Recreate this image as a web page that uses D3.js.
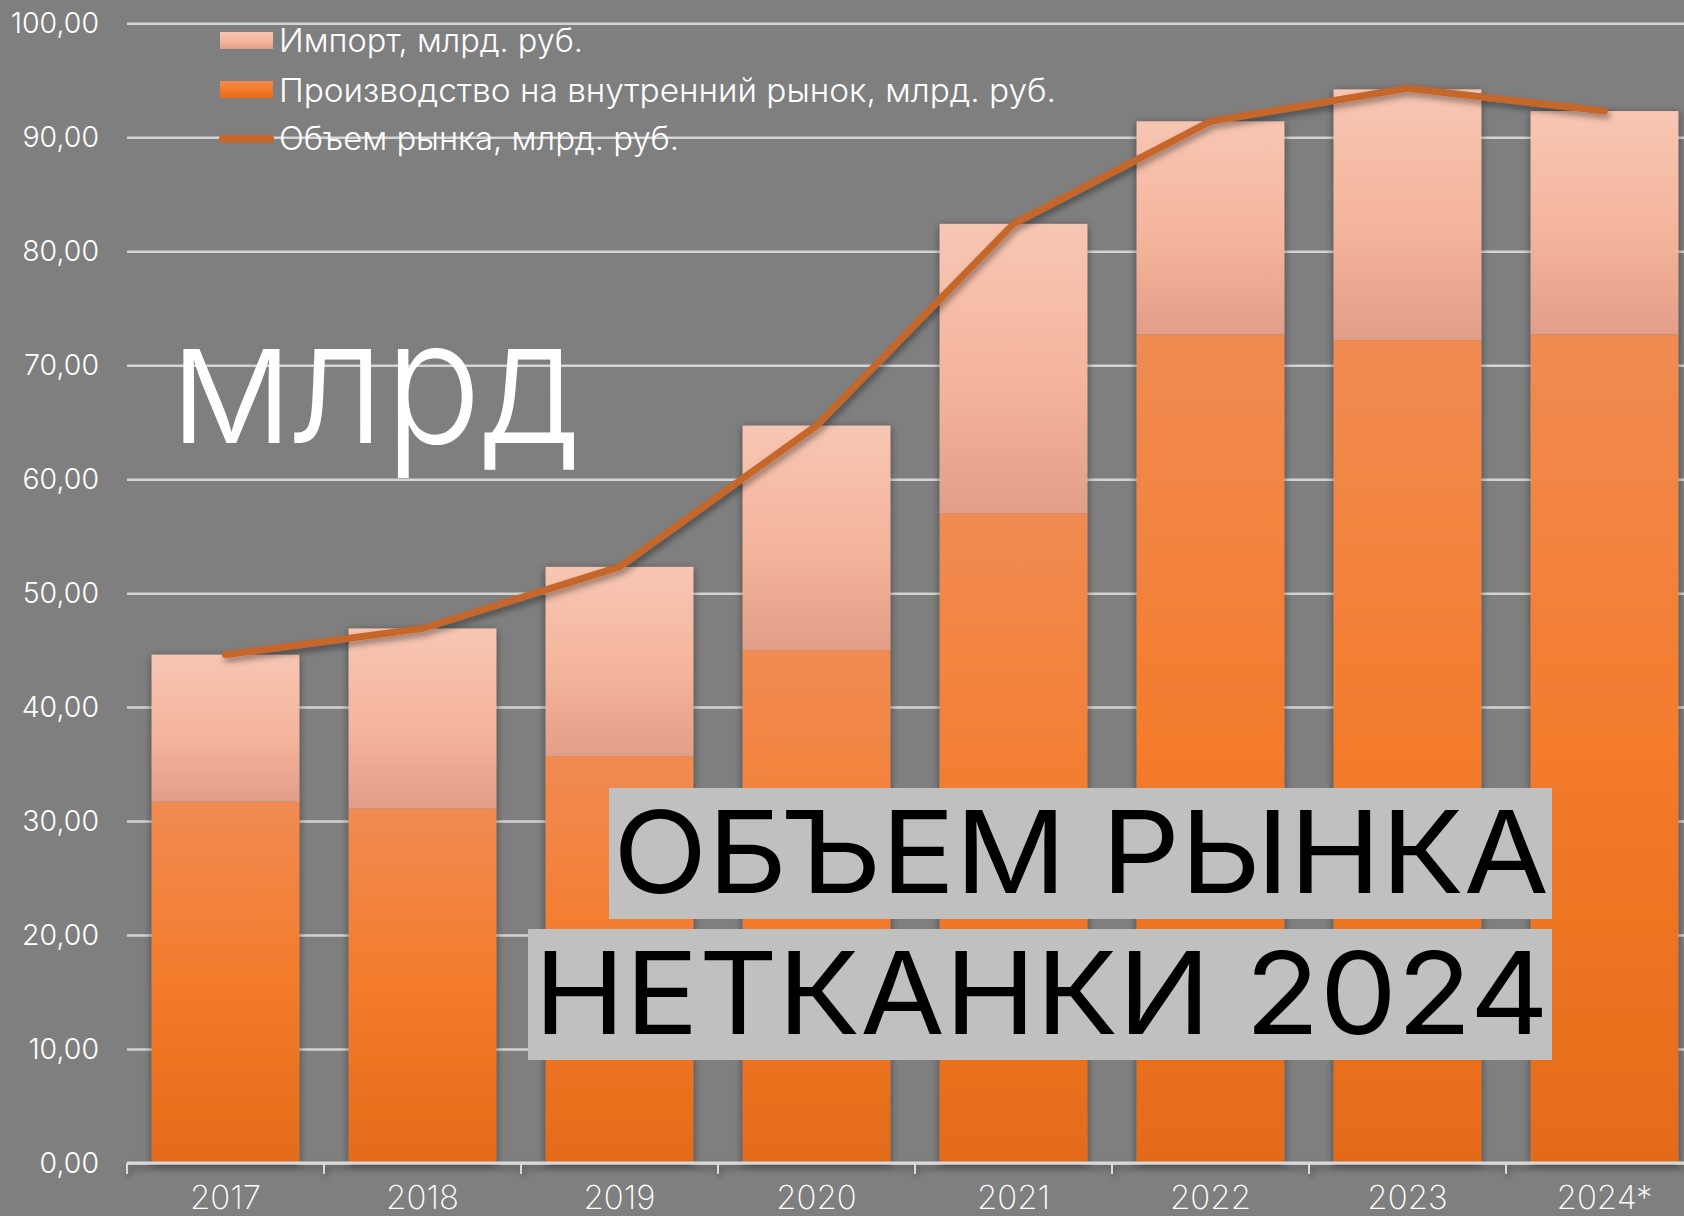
<!DOCTYPE html>
<html>
<head>
<meta charset="utf-8">
<script src="https://cdn.jsdelivr.net/npm/d3@7"></script>
<style>
  body { margin: 0; background: #7f7f7f; }
  svg { display: block; }
</style>
</head>
<body>
<script>
const width = 1684,
  height = 1216;

// Data
const years = ["2017", "2018", "2019", "2020", "2021", "2022", "2023", "2024*"];
const production = [31.7, 31.1, 35.7, 45.0, 57.0, 72.7, 72.2, 72.7];
const imports = [12.9, 15.8, 16.6, 19.7, 25.4, 18.7, 22.0, 19.6];
const marketVolume = [44.6, 46.9, 52.3, 64.7, 82.4, 91.4, 94.3, 92.3];
const yTicks = [0, 10, 20, 30, 40, 50, 60, 70, 80, 90, 100];
const legendLabels = [
  "Импорт, млрд. руб.",
  "Производство на внутренний рынок, млрд. руб.",
  "Объем рынка, млрд. руб."
];

const font = "Inter, 'Noto Sans', sans-serif";

const svg = d3
  .select("body")
  .append("svg")
  .attr("width", width)
  .attr("height", height);

svg.append("rect").attr("width", width).attr("height", height).attr("fill", "#7f7f7f");

const defs = svg.append("defs");

// gradients for the two bar parts
const gImp = defs.append("linearGradient").attr("id", "gradImport")
  .attr("x1", 0).attr("y1", 0).attr("x2", 0).attr("y2", 1);
gImp.append("stop").attr("offset", "0%").attr("stop-color", "#f7c6b3");
gImp.append("stop").attr("offset", "55%").attr("stop-color", "#f5b49c");
gImp.append("stop").attr("offset", "100%").attr("stop-color", "#e19e88");

const gProd = defs.append("linearGradient").attr("id", "gradProd")
  .attr("x1", 0).attr("y1", 0).attr("x2", 0).attr("y2", 1);
gProd.append("stop").attr("offset", "0%").attr("stop-color", "#f08b52");
gProd.append("stop").attr("offset", "50%").attr("stop-color", "#f47b2b");
gProd.append("stop").attr("offset", "100%").attr("stop-color", "#e46b19");

const shadow = defs.append("filter").attr("id", "shadow")
  .attr("x", "-20%").attr("y", "-20%").attr("width", "140%").attr("height", "140%");
shadow.append("feDropShadow")
  .attr("dx", 0).attr("dy", 2).attr("stdDeviation", 4)
  .attr("flood-color", "#000").attr("flood-opacity", 0.45);

const lineShadow = defs.append("filter").attr("id", "lineShadow")
  .attr("x", "-10%").attr("y", "-50%").attr("width", "120%").attr("height", "200%");
lineShadow.append("feDropShadow")
  .attr("dx", 2).attr("dy", 4).attr("stdDeviation", 3)
  .attr("flood-color", "#000").attr("flood-opacity", 0.4);

// scales
const x = d3.scaleBand()
  .domain(years)
  .range([127, 127 + 8 * 197])
  .paddingInner(0.25)
  .paddingOuter(0.125);

const y = d3.scaleLinear()
  .domain([0, 100])
  .range([1163, 23.3]);

// y axis + gridlines
const yAxis = d3.axisLeft(y)
  .tickValues(yTicks)
  .tickSize(-(width - 127))
  .tickPadding(28)
  .tickFormat(d => d3.format(".2f")(d).replace(".", ","));

const yG = svg.append("g")
  .attr("transform", "translate(127,0)")
  .call(yAxis);
yG.select(".domain").remove();
yG.selectAll(".tick line")
  .attr("stroke", "#d4d4d4")
  .attr("stroke-width", 2.5);
yG.selectAll(".tick text")
  .attr("fill", "#fff")
  .attr("font-family", font)
  .attr("font-weight", 300)
  .attr("font-size", 28.5);

// stacked bars
const bars = svg.append("g").attr("filter", "url(#shadow)");

bars.selectAll(".prod")
  .data(years)
  .enter()
  .append("rect")
  .attr("class", "prod")
  .attr("x", d => x(d))
  .attr("width", x.bandwidth())
  .attr("y", (d, i) => y(production[i]))
  .attr("height", (d, i) => y(0) - y(production[i]))
  .attr("fill", "url(#gradProd)");

bars.selectAll(".imp")
  .data(years)
  .enter()
  .append("rect")
  .attr("class", "imp")
  .attr("x", d => x(d))
  .attr("width", x.bandwidth())
  .attr("y", (d, i) => y(production[i] + imports[i]))
  .attr("height", (d, i) => y(production[i]) - y(production[i] + imports[i]))
  .attr("fill", "url(#gradImport)");

// x axis
const xAxisG = svg.append("g").attr("filter", "url(#lineShadow)");
xAxisG.append("line")
  .attr("x1", x.range()[0]).attr("x2", width)
  .attr("y1", y(0)).attr("y2", y(0))
  .attr("stroke", "#d9d9d9").attr("stroke-width", 3);
xAxisG.selectAll(".xtick")
  .data(years)
  .enter()
  .append("line")
  .attr("x1", d => x(d) - x.step() * x.paddingOuter())
  .attr("x2", d => x(d) - x.step() * x.paddingOuter())
  .attr("y1", y(0)).attr("y2", y(0) + 11)
  .attr("stroke", "#d9d9d9").attr("stroke-width", 2);

svg.append("g")
  .selectAll("text")
  .data(years)
  .enter()
  .append("text")
  .attr("x", d => x(d) + x.bandwidth() / 2)
  .attr("y", y(0) + 46)
  .attr("text-anchor", "middle")
  .attr("fill", "#fff")
  .attr("font-family", font)
  .attr("font-weight", 200)
  .attr("font-size", 33)
  .text(d => d);

// market volume line
const line = d3.line()
  .x((d, i) => x(years[i]) + x.bandwidth() / 2)
  .y(d => y(d));

svg.append("path")
  .datum(marketVolume)
  .attr("d", line)
  .attr("fill", "none")
  .attr("stroke", "#c5662a")
  .attr("stroke-width", 7)
  .attr("stroke-linecap", "round")
  .attr("stroke-linejoin", "round")
  .attr("filter", "url(#lineShadow)");

// legend
const legend = svg.append("g");
const lgY = [52, 102, 150];
const lgW = [304, 777, 400];
legend.append("rect")
  .attr("x", 220).attr("y", 32).attr("width", 53).attr("height", 17)
  .attr("fill", "url(#gradImport)");
legend.append("rect")
  .attr("x", 220).attr("y", 81).attr("width", 53).attr("height", 17)
  .attr("fill", "url(#gradProd)");
legend.append("line")
  .attr("x1", 223).attr("x2", 270).attr("y1", 139).attr("y2", 139)
  .attr("stroke", "#c5662a").attr("stroke-width", 8)
  .attr("stroke-linecap", "round");
legend.selectAll("text")
  .data(legendLabels)
  .enter()
  .append("text")
  .attr("x", 279)
  .attr("y", (d, i) => lgY[i])
  .attr("fill", "#fff")
  .attr("font-family", font)
  .attr("font-weight", 300)
  .attr("font-size", 32)
  .attr("textLength", (d, i) => lgW[i])
  .attr("lengthAdjust", "spacingAndGlyphs")
  .text(d => d);

// big annotation
svg.append("text")
  .attr("x", 170)
  .attr("y", 443)
  .attr("fill", "#fff")
  .attr("font-family", font)
  .attr("font-weight", 300)
  .attr("font-size", 172)
  .attr("textLength", 410)
  .attr("lengthAdjust", "spacingAndGlyphs")
  .text("млрд");

// title boxes
const titles = [
  { text: "ОБЪЕМ РЫНКА", bx: 609, by: 788, bw: 943, tx: 613, ty: 893, tl: 936 },
  { text: "НЕТКАНКИ 2024", bx: 528, by: 929, bw: 1024, tx: 534, ty: 1034, tl: 1015 }
];
titles.forEach(t => {
  svg.append("rect")
    .attr("x", t.bx).attr("y", t.by)
    .attr("width", t.bw).attr("height", 131)
    .attr("fill", "#c0c0c0");
  svg.append("text")
    .attr("x", t.tx).attr("y", t.ty)
    .attr("fill", "#000")
    .attr("font-family", font)
    .attr("font-weight", 400)
    .attr("font-size", 114)
    .attr("textLength", t.tl)
    .attr("lengthAdjust", "spacingAndGlyphs")
    .text(t.text);
});
</script>
</body>
</html>
